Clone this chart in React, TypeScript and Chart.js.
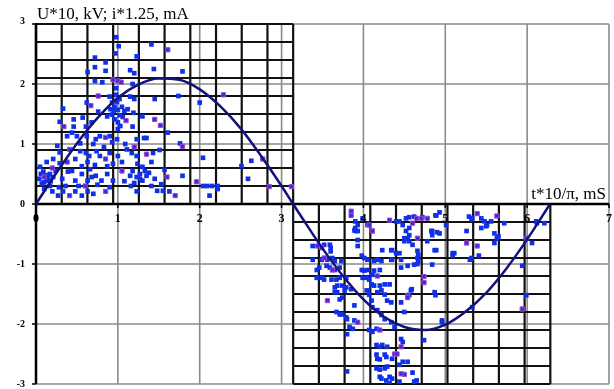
import React, { useEffect, useRef } from "react";
import { Chart, registerables } from "chart.js";

Chart.register(...registerables);

const X_TICKS = [0, 1, 2, 3, 4, 5, 6, 7];
const Y_TICKS = [-3, -2, -1, 0, 1, 2, 3];
const Y_TITLE = "U*10, kV; i*1.25, mA";
const X_TITLE = "t*10/\u03c0, mS";

// fine grid cells: pi/10 in time, 0.3 in amplitude
const FINE_STEPS = [0, 1, 2, 3, 4, 5, 6, 7, 8, 9, 10];
const FINE_DX = Math.PI / 10;
const FINE_DY = 0.3;

// fitted curve
const CURVE_X = [0, 0.25, 0.5, 0.75, 1, 1.25, 1.5, 1.75, 2, 2.25, 2.5, 2.75, 3, 3.14, 3.25, 3.5, 3.75, 4, 4.25, 4.5, 4.75, 5, 5.25, 5.5, 5.75, 6, 6.28];
const CURVE_Y = [0, 0.52, 1.01, 1.43, 1.77, 1.99, 2.09, 2.07, 1.91, 1.63, 1.26, 0.8, 0.3, 0, -0.23, -0.74, -1.2, -1.59, -1.88, -2.05, -2.1, -2.01, -1.79, -1.48, -1.07, -0.59, 0];

const BLUE_POS = [
  [0.98, 2.78], [1.01, 2.63], [0.97, 2.51], [1.23, 2.46], [1.41, 2.66], [0.72, 2.44], [0.85, 2.36], [0.72, 2.28], [0.85, 2.22], [0.63, 2.2],
  [1.15, 2.23], [1.2, 2.18], [1.44, 2.25], [1.79, 2.21], [0.72, 2.05], [0.81, 2.03], [1.18, 2.0], [0.98, 1.93], [0.98, 1.82], [0.9, 1.79],
  [1.15, 1.79], [1.2, 1.75], [1.45, 1.75], [1.74, 1.8], [2.0, 1.69], [0.62, 1.69], [0.93, 1.69], [0.96, 1.62], [1.0, 1.57], [0.33, 1.59],
  [0.76, 1.54], [0.87, 1.46], [0.93, 1.49], [0.96, 1.41], [1.0, 1.36], [1.19, 1.52], [1.3, 1.46], [0.29, 1.37], [0.46, 1.41], [0.46, 1.29],
  [0.57, 1.44], [0.61, 1.29], [0.68, 1.36], [1.18, 1.29], [1.61, 1.19], [0.38, 1.13], [0.44, 1.19], [0.5, 1.13], [0.54, 1.01], [0.62, 1.13],
  [0.73, 1.08], [0.78, 1.13], [0.9, 1.13], [0.93, 1.03], [0.99, 1.08], [1.09, 1.0], [1.23, 1.08], [1.32, 1.1], [1.35, 1.1], [1.76, 1.01],
  [0.26, 0.97], [0.29, 0.86], [0.54, 0.88], [0.61, 0.85], [0.65, 0.8], [0.74, 0.88], [0.78, 0.8], [0.9, 0.85], [1.0, 0.8], [1.11, 0.91],
  [1.17, 0.85], [1.23, 0.8], [1.43, 0.85], [1.51, 0.9], [2.04, 0.77], [0.13, 0.7], [0.21, 0.75], [0.29, 0.68], [0.48, 0.75], [0.56, 0.63],
  [0.63, 0.7], [0.72, 0.65], [0.87, 0.63], [0.94, 0.67], [1.05, 0.7], [1.24, 0.67], [1.3, 0.62], [1.41, 0.7], [1.57, 0.57], [2.51, 0.63],
  [2.63, 0.72], [0.09, 0.54], [0.17, 0.5], [0.21, 0.45], [0.13, 0.39], [0.07, 0.34], [0.17, 0.3], [0.32, 0.42], [0.39, 0.54], [0.48, 0.39],
  [0.56, 0.5], [0.63, 0.39], [0.73, 0.47], [0.8, 0.39], [0.87, 0.5], [0.94, 0.39], [1.15, 0.47], [1.23, 0.45], [1.27, 0.42], [1.3, 0.39],
  [1.35, 0.47], [1.45, 0.42], [1.79, 0.47], [2.04, 0.3], [2.09, 0.3], [2.15, 0.3], [2.22, 0.3], [2.59, 0.42], [0.2, 0.21], [0.27, 0.14],
  [0.33, 0.21], [0.48, 0.21], [0.56, 0.14], [0.63, 0.21], [0.7, 0.17], [1.23, 0.21], [1.48, 0.22], [1.55, 0.22], [1.63, 0.21], [2.12, 0.14],
  [2.22, 0.25], [0.1, 0.25], [0.15, 0.45], [1.02, 1.48], [1.05, 1.62], [0.99, 1.7], [1.08, 1.55], [0.68, 0.45], [0.44, 0.55], [1.18, 0.55],
  [0.04, 0.42], [0.06, 0.5], [0.1, 0.36], [0.12, 0.48], [0.18, 0.38], [0.24, 0.55], [0.05, 0.62], [1.0, 1.25], [1.03, 1.3], [0.95, 1.55],
  [1.02, 1.75], [0.91, 1.58], [1.06, 1.45], [1.12, 1.58], [1.38, 0.52], [1.33, 0.55], [1.27, 0.5], [0.83, 0.95], [0.7, 1.0], [0.66, 0.58],
  [1.16, 0.3], [1.2, 0.35], [0.52, 0.3], [0.36, 0.3], [0.9, 0.28], [1.41, 0.3], [1.53, 0.33], [0.28, 0.28], [0.75, 0.32], [1.08, 0.38],
];

const BLUE_NEG = [
  [3.9, -0.29], [3.9, -0.4], [3.93, -0.45], [4.4, -0.29], [4.44, -0.29], [4.48, -0.35], [4.52, -0.24], [4.56, -0.22], [4.62, -0.21], [4.56, -0.4],
  [4.52, -0.45], [4.72, -0.22], [4.88, -0.19], [4.93, -0.14], [5.01, -0.35], [4.84, -0.45], [4.84, -0.52], [4.9, -0.47], [4.54, -0.57], [4.5, -0.57],
  [4.56, -0.62], [4.6, -0.68], [5.29, -0.21], [5.33, -0.24], [5.44, -0.24], [5.48, -0.29], [5.51, -0.35], [5.56, -0.29], [5.6, -0.49], [5.65, -0.54],
  [5.26, -0.45], [5.72, -0.32], [6.11, -0.29], [6.21, -0.32], [6.06, -0.65], [5.09, -0.82], [5.09, -0.86], [4.87, -0.77], [4.66, -0.78], [4.67, -0.85],
  [4.66, -0.9], [4.62, -1.01], [4.66, -1.0], [4.54, -1.03], [4.44, -0.82], [4.46, -0.93], [4.35, -0.77], [4.34, -0.93], [4.4, -0.82], [4.23, -0.77],
  [5.3, -0.93], [5.41, -0.86], [4.84, -1.01], [4.87, -1.47], [4.88, -1.52], [4.59, -1.42], [5.33, -1.72], [5.94, -1.03], [5.99, -1.52], [4.5, -1.8],
  [4.96, -1.97], [4.74, -2.27], [4.62, -2.96],
  [3.38, -0.7], [3.52, -0.68], [3.59, -0.68], [3.6, -0.73], [3.6, -0.79], [3.38, -0.93], [3.49, -0.93], [3.56, -0.93], [3.62, -0.9], [3.65, -0.95],
  [3.73, -0.95], [3.43, -1.1], [3.46, -1.06], [3.55, -1.03], [3.59, -1.06], [3.65, -1.1], [3.71, -1.06], [3.43, -1.23], [3.49, -1.23], [3.52, -1.26],
  [3.61, -1.26], [3.67, -1.26], [3.71, -1.23], [3.79, -1.23], [3.65, -1.39], [3.68, -1.36], [3.74, -1.36], [3.79, -1.39], [3.85, -1.42],
  [3.93, -0.35], [3.89, -0.44], [3.91, -0.45], [3.99, -0.24], [4.05, -0.35], [4.11, -0.45], [3.93, -0.6], [3.93, -0.7], [3.98, -0.86], [4.01, -0.9],
  [4.05, -0.93], [3.98, -1.1], [4.01, -1.11], [4.05, -1.1], [3.99, -1.23], [4.04, -1.23], [4.07, -1.26], [4.11, -1.18], [4.13, -0.95], [4.17, -0.93],
  [4.22, -0.95], [4.13, -1.11], [4.2, -1.1], [4.1, -1.34], [4.13, -1.36], [4.2, -1.36], [4.26, -1.34], [4.32, -1.34], [4.34, -0.77], [4.35, -0.93],
  [4.46, -1.06], [4.5, -0.62], [4.56, -0.52],
  [3.65, -1.47], [3.68, -1.47], [3.77, -1.44], [3.74, -1.56], [3.71, -1.59], [3.89, -1.69], [3.67, -1.8], [3.71, -1.84], [3.74, -1.84], [3.79, -1.89],
  [3.8, -1.92], [3.89, -1.94], [3.83, -2.05], [3.87, -2.08], [3.8, -2.17], [4.04, -1.44], [4.07, -1.51], [4.1, -1.61], [4.17, -1.47], [4.22, -1.44],
  [4.26, -1.51], [4.29, -1.61], [4.34, -1.64], [4.11, -1.72], [4.17, -1.77], [4.22, -1.85], [4.26, -1.92], [4.34, -1.97], [4.38, -2.05], [4.07, -2.1],
  [4.11, -2.13], [4.16, -2.08], [4.46, -1.64], [4.58, -1.44], [4.56, -1.52], [4.46, -2.25], [4.48, -2.3], [4.16, -2.35], [4.2, -2.38], [4.23, -2.35],
  [4.29, -2.38], [4.16, -2.51], [4.17, -2.58], [4.2, -2.59], [4.26, -2.51], [4.28, -2.55], [4.35, -2.58], [4.48, -2.63], [4.54, -2.63], [4.44, -2.68],
  [4.16, -2.74], [4.2, -2.76], [4.26, -2.74], [4.29, -2.71], [4.2, -2.88], [4.22, -2.91], [4.28, -2.94], [4.32, -2.88], [4.35, -2.91], [3.8, -2.79],
  [4.6, -2.81], [4.44, -2.96], [4.32, -2.99],
  [4.89, -0.19], [5.32, -0.26], [5.44, -0.4], [5.5, -0.37], [4.83, -0.45], [4.93, -0.49], [4.78, -0.62], [5.6, -0.65], [5.63, -0.57], [4.89, -0.77],
  [5.11, -0.82], [5.32, -0.9], [6.12, -0.32], [4.67, -0.95], [4.96, -1.94], [4.65, -2.94],
];

const PURPLE_POS = [
  [1.61, 2.57], [0.94, 2.07], [1.0, 2.05], [1.04, 2.03], [0.76, 1.8], [2.29, 1.82], [0.67, 1.64], [1.45, 1.41], [1.52, 1.31], [0.34, 1.29],
  [1.1, 1.39], [0.85, 1.11], [1.79, 0.96], [0.41, 0.91], [0.85, 0.75], [1.35, 0.83], [2.77, 0.75], [0.38, 0.7], [1.6, 0.45], [1.96, 0.37],
  [2.85, 0.29], [3.12, 0.29], [0.41, 0.14], [0.85, 0.21], [1.7, 0.14], [0.1, 0.45], [0.6, 0.3], [1.05, 0.55], [1.2, 0.95], [0.2, 0.6],
];

const PURPLE_NEG = [
  [3.85, -0.12], [3.85, -0.19], [4.07, -0.35], [4.11, -0.45], [4.32, -0.27], [4.6, -0.32], [4.65, -0.24], [4.66, -0.57], [5.39, -0.16], [5.26, -0.65],
  [5.39, -0.7], [5.99, -0.57], [4.74, -1.21], [4.74, -1.31], [4.54, -1.52], [5.94, -1.75], [3.44, -0.7], [3.49, -0.73], [3.52, -0.9], [3.56, -1.61],
  [3.93, -1.97], [4.54, -1.56], [4.46, -2.38], [4.38, -2.5], [4.41, -2.5], [4.5, -2.84], [4.46, -2.83], [4.78, -0.24], [4.71, -0.24], [5.63, -0.2],
  [4.17, -1.2], [3.62, -1.1], [4.2, -2.1],
];

const toPts = (arr: number[][]) => arr.map(([x, y]) => ({ x, y }));

const gridPlugin = {
  id: "customGrid",
  beforeDatasetsDraw(chart: any) {
    const { ctx, chartArea, scales } = chart;
    const { left, right, top, bottom } = chartArea;
    const xs = scales.x;
    const ys = scales.y;
    const line = (x1: number, y1: number, x2: number, y2: number) => {
      ctx.beginPath();
      ctx.moveTo(x1, y1);
      ctx.lineTo(x2, y2);
      ctx.stroke();
    };
    ctx.save();
    // coarse grid
    ctx.strokeStyle = "#8a8a8a";
    ctx.lineWidth = 1.6;
    for (const v of X_TICKS) {
      const px = xs.getPixelForValue(v);
      line(px, top, px, bottom);
    }
    for (const v of Y_TICKS) {
      const py = ys.getPixelForValue(v);
      line(left, py, right, py);
    }
    // fine grid, region 1 (0..pi, 0..3) and region 2 (pi..2pi, -3..0)
    ctx.strokeStyle = "#111";
    ctx.lineWidth = 2.2;
    const regions = [
      { x0: 0, sy: 1 },
      { x0: Math.PI, sy: -1 },
    ];
    for (const r of regions) {
      const xa = xs.getPixelForValue(r.x0);
      const xb = xs.getPixelForValue(r.x0 + Math.PI);
      const ya = ys.getPixelForValue(0);
      const yb = ys.getPixelForValue(r.sy * 3);
      for (const k of FINE_STEPS) {
        const px = xs.getPixelForValue(r.x0 + k * FINE_DX);
        line(px, ya, px, yb);
        const py = ys.getPixelForValue(r.sy * k * FINE_DY);
        line(xa, py, xb, py);
      }
    }
    // axes
    ctx.strokeStyle = "#000";
    ctx.lineWidth = 2.5;
    const y0 = ys.getPixelForValue(0);
    line(left, y0, right, y0);
    const x0 = xs.getPixelForValue(0);
    line(x0, top - 1, x0, bottom);
    ctx.lineWidth = 1.5;
    for (const v of Y_TICKS) {
      const py = ys.getPixelForValue(v);
      line(x0 - 4, py, x0, py);
    }
    for (const v of X_TICKS) {
      const px = xs.getPixelForValue(v);
      line(px, y0, px, y0 + 4);
    }
    ctx.restore();
  },
  afterDraw(chart: any) {
    const { ctx, scales } = chart;
    const xs = scales.x;
    const ys = scales.y;
    ctx.save();
    ctx.fillStyle = "#000";
    ctx.font = "bold 10px 'Liberation Serif'";
    ctx.textAlign = "right";
    ctx.textBaseline = "middle";
    const x0 = xs.getPixelForValue(0);
    const y0 = ys.getPixelForValue(0);
    for (const v of Y_TICKS) {
      ctx.fillText(String(v), x0 - 11, ys.getPixelForValue(v) + (v === 3 ? -3 : 0));
    }
    ctx.font = "bold 12px 'Liberation Serif'";
    ctx.textAlign = "center";
    ctx.textBaseline = "top";
    for (const v of X_TICKS) {
      ctx.fillText(String(v), xs.getPixelForValue(v), y0 + 9);
    }
    ctx.font = "17px 'Liberation Serif'";
    ctx.textAlign = "left";
    ctx.textBaseline = "alphabetic";
    ctx.fillText(Y_TITLE, x0 + 1, 19);
    ctx.textAlign = "right";
    ctx.fillText(X_TITLE, xs.getPixelForValue(7) - 3, y0 - 5);
    ctx.restore();
  },
};

export default function App() {
  const ref = useRef<HTMLCanvasElement | null>(null);
  useEffect(() => {
    document.body.style.margin = "0";
    const canvas = ref.current;
    if (!canvas) return;
    const chart = new Chart(canvas, {
      type: "scatter",
      data: {
        datasets: [
          {
            label: "fit",
            data: CURVE_X.map((x, i) => ({ x, y: CURVE_Y[i] })),
            showLine: true,
            borderColor: "#12127a",
            borderWidth: 2.5,
            pointRadius: 0,
            cubicInterpolationMode: "monotone",
            order: 0,
          } as any,
          {
            label: "blue",
            data: [...toPts(BLUE_POS), ...toPts(BLUE_NEG)],
            pointStyle: "rect",
            pointRadius: 3.3,
            backgroundColor: "#1030e8",
            borderColor: "#1030e8",
            borderWidth: 0,
            order: 2,
          },
          {
            label: "purple",
            data: [...toPts(PURPLE_POS), ...toPts(PURPLE_NEG)],
            pointStyle: "rect",
            pointRadius: 3,
            backgroundColor: "#3a2ae0",
            borderColor: "#a048c8",
            borderWidth: 1,
            order: 1,
          },
        ],
      },
      options: {
        animation: false,
        responsive: false,
        layout: { padding: { left: 36, right: 4, top: 24, bottom: 1 } },
        plugins: { legend: { display: false }, tooltip: { enabled: false } },
        scales: {
          x: { type: "linear", min: 0, max: 7, display: false },
          y: { type: "linear", min: -3, max: 3, display: false },
        },
      },
      plugins: [gridPlugin],
    });
    return () => chart.destroy();
  }, []);
  return (
    <div style={{ position: "fixed", left: 0, top: 0, width: 614, height: 389, background: "#fff" }}>
      <canvas ref={ref} width={614} height={389} style={{ display: "block" }} />
    </div>
  );
}
